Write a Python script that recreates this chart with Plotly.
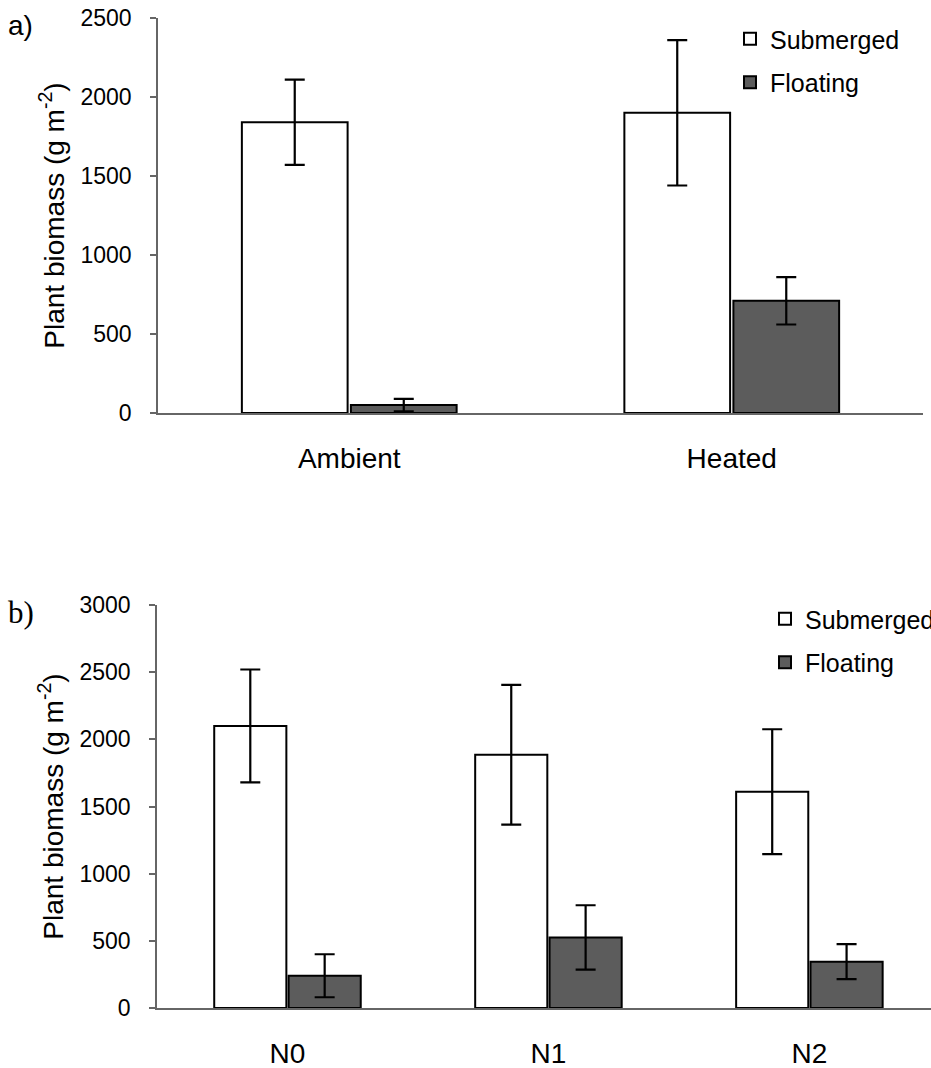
import plotly.graph_objects as go

# ---- data ----
cats_a = ["Ambient", "Heated"]
sub_a = [1840, 1900]
sub_a_err = [270, 460]
flo_a = [50, 710]
flo_a_err = [40, 150]

cats_b = ["N0", "N1", "N2"]
sub_b = [2100, 1885, 1610]
sub_b_err = [420, 520, 465]
flo_b = [240, 525, 345]
flo_b_err = [160, 240, 130]

W, H = 931, 1068
FONT = "Arial, Liberation Sans, sans-serif"
FLOAT_COL = "#5c5c5c"
AX_COL = "#666666"

def py(p):
    return 1 - p / H

fig = go.Figure()

def add(cats, vals, errs, name, color, xa, ya, legend, group):
    fig.add_trace(go.Bar(
        x=cats, y=vals, name=name, xaxis=xa, yaxis=ya, legend=legend,
        legendgroup=group,
        marker=dict(color=color, line=dict(color="black", width=2)),
        error_y=dict(type="data", array=errs, color="black", thickness=2.2, width=10),
    ))

add(cats_a, sub_a, sub_a_err, "Submerged", "white", "x", "y", "legend", "a1")
add(cats_a, flo_a, flo_a_err, "Floating", FLOAT_COL, "x", "y", "legend", "a2")
add(cats_b, sub_b, sub_b_err, "Submerged", "white", "x2", "y2", "legend2", "b1")
add(cats_b, flo_b, flo_b_err, "Floating", FLOAT_COL, "x2", "y2", "legend2", "b2")

tickfont = dict(family=FONT, size=23, color="black")
catfont = dict(family=FONT, size=28, color="black")

yax = dict(showline=True, linecolor=AX_COL, linewidth=1.5, ticks="outside",
           ticklen=6, tickcolor=AX_COL, tickwidth=1.5, showgrid=False, zeroline=False,
           tickfont=tickfont, ticklabelstandoff=14, automargin=False,
           title=dict(text="Plant biomass (g m<sup>-2</sup>)",
                      font=dict(family=FONT, size=28, color="black"), standoff=8))
xax = dict(showline=True, linecolor=AX_COL, linewidth=1.5, ticks="", showgrid=False,
           zeroline=False, tickfont=catfont, ticklabelstandoff=20, automargin=False)

legfont = dict(family=FONT, size=25, color="black")

fig.update_layout(
    width=W, height=H,
    margin=dict(l=0, r=0, t=0, b=0, autoexpand=False),
    paper_bgcolor="white", plot_bgcolor="white",
    barmode="group", bargap=0.43, bargroupgap=0.03,
    xaxis=dict(xax, domain=[158 / W, 923 / W], anchor="y"),
    yaxis=dict(yax, domain=[py(413), py(18)], range=[0, 2500], dtick=500, anchor="x"),
    xaxis2=dict(xax, domain=[157 / W, 1.0], range=[-0.5, 2.466], anchor="y2"),
    yaxis2=dict(yax, domain=[py(1008), py(605)], range=[0, 3000], dtick=500, anchor="x2"),
    legend=dict(x=730 / W, y=py(16), xanchor="left", yanchor="top",
                xref="container", yref="container",
                font=legfont, bgcolor="rgba(0,0,0,0)", tracegroupgap=8,
                itemwidth=30, traceorder="grouped"),
    legend2=dict(x=765 / W, y=py(596), xanchor="left", yanchor="top",
                 xref="container", yref="container",
                 font=legfont, bgcolor="rgba(0,0,0,0)", tracegroupgap=8,
                 itemwidth=30, traceorder="grouped"),
    annotations=[
        dict(text="a)", x=6 / W, y=py(25), xref="paper", yref="paper",
             xanchor="left", yanchor="middle", showarrow=False,
             font=dict(family=FONT, size=28, color="black")),
        dict(text="b)", x=6 / W, y=py(612), xref="paper", yref="paper",
             xanchor="left", yanchor="middle", showarrow=False,
             font=dict(family="Liberation Serif, Times New Roman, serif", size=31, color="black")),
    ],
)

fig.write_html("out.html")
